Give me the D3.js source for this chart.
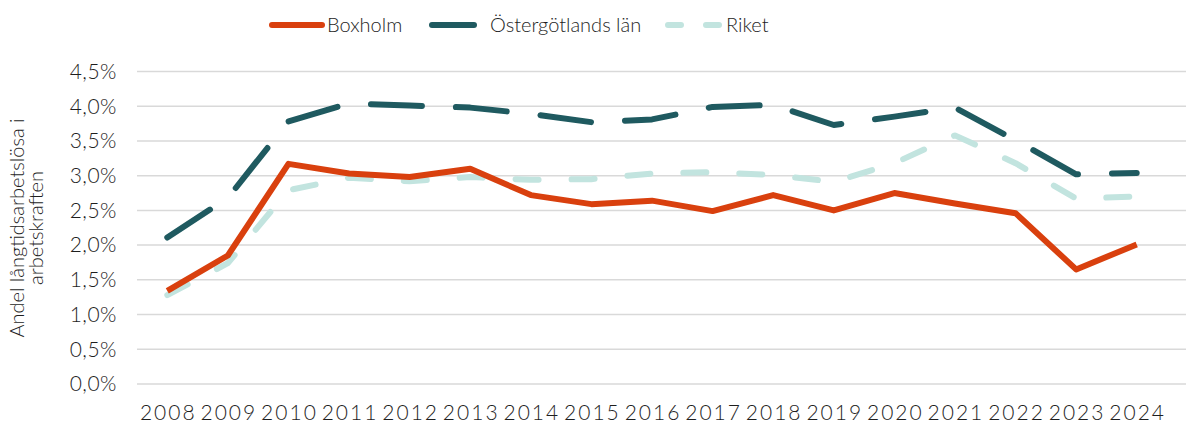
<!DOCTYPE html>
<html lang="sv">
<head>
  <meta charset="UTF-8">
  <title>Långtidsarbetslösa</title>
  <style>
    body { margin: 0; background: #fff; }
    svg { display: block; }
    text { font-family: Lato, "Open Sans", sans-serif; font-weight: 300; fill: #1e1e1e; }
  </style>
</head>
<body>
  <svg width="1186" height="423"></svg>
  <script src="https://d3js.org/d3.v7.min.js"></script>
  <script>
    // årtal och serier (andel i procent)
    const years = ["2008","2009","2010","2011","2012","2013","2014","2015","2016",
                   "2017","2018","2019","2020","2021","2022","2023","2024"];
    const boxholm = [1.34, 1.85, 3.17, 3.03, 2.98, 3.10, 2.72, 2.59, 2.64,
                     2.49, 2.72, 2.50, 2.75, 2.60, 2.46, 1.65, 2.01];
    const ostergotland = [2.11, 2.68, 3.78, 4.04, 4.01, 3.98, 3.89, 3.77, 3.81,
                          3.99, 4.02, 3.73, 3.85, 3.98, 3.51, 3.02, 3.04];
    const riket = [1.28, 1.74, 2.79, 2.97, 2.92, 2.98, 2.94, 2.95, 3.03,
                   3.05, 3.01, 2.91, 3.18, 3.58, 3.18, 2.67, 2.70];
    const yTicks = [0, 0.5, 1, 1.5, 2, 2.5, 3, 3.5, 4, 4.5];

    const series = [
      { name: "Boxholm", values: boxholm, color: "#d9400e", dash: null },
      { name: "Östergötlands län", values: ostergotland, color: "#1f5a60", dash: "51,34" },
      { name: "Riket", values: riket, color: "#c2e4df", dash: "23,33" }
    ];

    const svg = d3.select("svg");
    const W = 1186;
    const mLeft = 137, mRight = 1167, mTop = 71.5, mBottom = 384;

    const x = d3.scalePoint().domain(years).range([mLeft, mRight]).padding(0.5);
    const y = d3.scaleLinear().domain([0, 4.5]).range([mBottom, mTop]);
    const fmt = d => d3.format(".1f")(d).replace(".", ",") + "%";

    // stödlinjer
    svg.append("g")
      .selectAll("line")
      .data(yTicks)
      .join("line")
      .attr("x1", mLeft).attr("x2", W)
      .attr("y1", d => y(d)).attr("y2", d => y(d))
      .attr("stroke", "#d9d9d9")
      .attr("stroke-width", 1.5);

    // y-axel
    svg.append("g")
      .selectAll("text")
      .data(yTicks)
      .join("text")
      .attr("x", 117)
      .attr("y", d => y(d))
      .attr("dy", "0.35em")
      .attr("text-anchor", "end")
      .style("font-size", "21px")
      .style("letter-spacing", "0.5px")
      .text(fmt);

    // x-axel
    svg.append("g")
      .selectAll("text")
      .data(years)
      .join("text")
      .attr("x", d => x(d) + 1)
      .attr("y", 413)
      .attr("dy", "0.35em")
      .attr("text-anchor", "middle")
      .style("font-size", "21px")
      .style("letter-spacing", "2px")
      .text(d => d);

    // axeltitel
    const title = svg.append("text")
      .attr("transform", "translate(26,228) rotate(-90)")
      .attr("text-anchor", "middle")
      .style("font-size", "20px");
    title.append("tspan").attr("x", 0).attr("dy", "-0.1em").text("Andel långtidsarbetslösa i");
    title.append("tspan").attr("x", 0).attr("dy", "0.95em").text("arbetskraften");

    // linjer
    const line = d3.line()
      .x((d, i) => x(years[i]))
      .y(d => y(d));

    svg.append("g")
      .selectAll("path")
      .data(series.slice().reverse())
      .join("path")
      .attr("d", d => line(d.values))
      .attr("fill", "none")
      .attr("stroke", d => d.color)
      .attr("stroke-width", 6)
      .attr("stroke-linecap", d => d.dash ? "round" : "butt")
      .attr("stroke-linejoin", "round")
      .attr("stroke-dasharray", d => d.dash);

    // förklaring
    const legendItems = [
      { s: series[0], x1: 272, x2: 322, tx: 327 },
      { s: series[1], x1: 432, x2: 474, tx: 490 },
      { s: series[2], x1: 668, x2: 719, tx: 726 }
    ];
    const lg = svg.append("g");
    lg.selectAll("line")
      .data(legendItems)
      .join("line")
      .attr("x1", d => d.x1).attr("x2", d => d.x2)
      .attr("y1", 25).attr("y2", 25)
      .attr("stroke", d => d.s.color)
      .attr("stroke-width", 6)
      .attr("stroke-linecap", "round")
      .attr("stroke-dasharray", d => d.s.name === "Riket" ? "13,25" : null);
    lg.selectAll("text")
      .data(legendItems)
      .join("text")
      .attr("x", d => d.tx)
      .attr("y", 25)
      .attr("dy", "0.35em")
      .style("font-size", "20px")
      .text(d => d.s.name);
  </script>
</body>
</html>
